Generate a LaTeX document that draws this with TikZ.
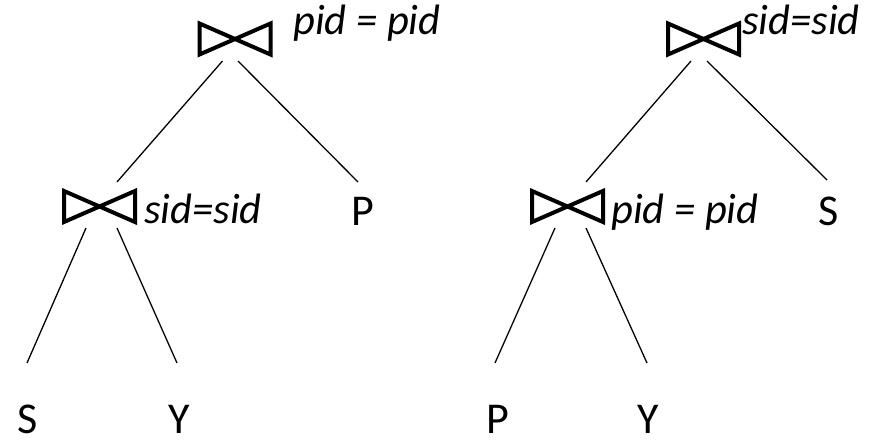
\documentclass[tikz,border=0pt]{standalone}
\usepackage{fontspec}
\setmainfont{Carlito}
\usetikzlibrary{calc}
\begin{document}
\begin{tikzpicture}[x=1pt,y=-1pt,
  jnode/.style={minimum width=71pt,minimum height=31pt,inner sep=0pt,outer sep=0pt},
  bow/.style={line width=4pt,line join=miter},
  conn/.style={line width=1.3pt},
  leaf/.style={inner sep=0pt,anchor=base,font=\fontsize{44}{44}\selectfont},
  cond/.style={inner sep=0pt,anchor=base west,font=\fontsize{42.5}{42.5}\selectfont\itshape}]
\useasboundingbox (0,0) rectangle (873,441);
% join nodes
\node[jnode] (j1) at (235,39) {};
\node[jnode] (j2) at (99.5,206.5) {};
\node[jnode] (j3) at (703.5,39) {};
\node[jnode] (j4) at (567.5,206.5) {};
\foreach \j in {j1,j2,j3,j4}
  \draw[bow] (\j.north west) -- (\j.south west) -- (\j.north east) -- (\j.south east) -- cycle;
% conditions
\node[cond] (c1) at (293,35) {pid = pid};
\node[cond] (c2) at (144,223) {sid=sid};
\node[cond] (c3) at (742,35) {sid=sid};
\node[cond] (c4) at (611,223) {pid = pid};
% leaves
\node[leaf] (P1) at (362.5,225) {P};
\node[leaf] (S1) at (27.5,433) {S};
\node[leaf] (Y1) at (179.5,433) {Y};
\node[leaf] (S2) at (828.5,225) {S};
\node[leaf] (P2) at (498,433) {P};
\node[leaf] (Y2) at (648.5,433) {Y};
% connectors
\draw[conn] ($(j1)+(-12.5,22)$) -- ($(j2)+(17.5,-24.5)$);
\draw[conn] ($(j1)+(3,22)$) -- ($(P1.base)+(-4.5,-43)$);
\draw[conn] ($(j2)+(-13.5,21.5)$) -- ($(S1.base)+(-0.5,-70)$);
\draw[conn] ($(j2)+(17.5,21.5)$) -- ($(Y1.base)+(-2.5,-70)$);
\draw[conn] ($(j3)+(-12.5,22)$) -- ($(j4)+(18.5,-24.5)$);
\draw[conn] ($(j3)+(3.5,22)$) -- ($(S2.base)+(-1.5,-45)$);
\draw[conn] ($(j4)+(-12.5,21.5)$) -- ($(P2.base)+(-3,-70)$);
\draw[conn] ($(j4)+(18.5,21.5)$) -- ($(Y2.base)+(-1.5,-70)$);
\end{tikzpicture}
\end{document}
